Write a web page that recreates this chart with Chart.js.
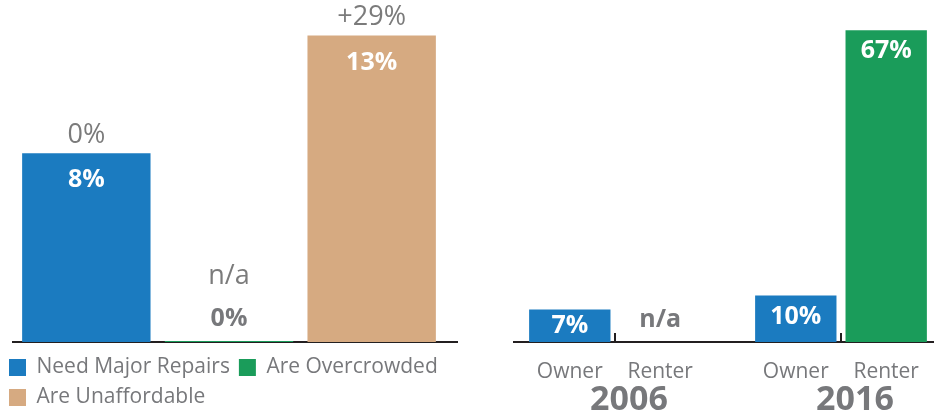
<!DOCTYPE html>
<html>
<head>
<meta charset="utf-8">
<script src="https://cdn.jsdelivr.net/npm/chart.js@4.4.1/dist/chart.umd.min.js"></script>
<style>
  html, body { margin: 0; padding: 0; background: #fff; overflow: hidden; }
  #wrap { position: relative; width: 934px; height: 414px; overflow: hidden; }
  #problemsChart { position: absolute; left: 0; top: 0; }
  #tenureChart { position: absolute; left: 480px; top: 0; }
</style>
</head>
<body>
<div id="wrap">
  <canvas id="problemsChart" width="470" height="418"></canvas>
  <canvas id="tenureChart" width="480" height="414"></canvas>
</div>
<script>
// Housing problems, share of households and change since 2006
const problemLabels = ['Need Major Repairs', 'Are Overcrowded', 'Are Unaffordable'];
const problemShares = [8, 0, 13];
const problemChanges = ['0%', 'n/a', '+29%'];
const problemColors = ['#1b7bc0', '#1a9c5a', '#d6aa81'];

// Unaffordable housing by tenure
const tenureYears = ['2006', '2016'];
const tenureTypes = ['Owner', 'Renter'];
const ownerShares = [7, 10];
const renterShares = [null, 67];
const tenureColors = ['#1b7bc0', '#1a9c5a'];

const FONT = "'Open Sans', sans-serif";
const GREY = '#77787b';
const LINE = '#231f20';

// axis line under the bars, a bit wider than the plot area
function drawBaseline(chart, extraLeft, extraRight) {
  const { ctx, chartArea } = chart;
  const y = chart.scales.y.getPixelForValue(0);
  ctx.save();
  ctx.fillStyle = LINE;
  ctx.fillRect(chartArea.left - extraLeft, y - 1, chartArea.width + extraLeft + extraRight, 2);
  ctx.restore();
}

const problemLabelPlugin = {
  id: 'problemLabels',
  beforeDatasetsDraw(chart) {
    drawBaseline(chart, 3, 15);
  },
  afterDatasetsDraw(chart) {
    const { ctx } = chart;
    const zeroY = chart.scales.y.getPixelForValue(0);
    const bars = chart.getDatasetMeta(0).data;
    ctx.save();
    ctx.textAlign = 'center';
    ctx.textBaseline = 'middle';
    bars.forEach((bar, i) => {
      const v = problemShares[i];
      let top;
      ctx.font = `700 25px ${FONT}`;
      if (v > 0) {
        ctx.fillStyle = '#fff';
        ctx.fillText(v + '%', bar.x, bar.y + 27);
        top = bar.y;
      } else {
        ctx.fillStyle = GREY;
        ctx.fillText(v + '%', bar.x, zeroY - 23);
        top = zeroY - 48;
      }
      ctx.fillStyle = '#7b7b7b';
      ctx.font = `400 27px ${FONT}`;
      ctx.fillText(problemChanges[i], bar.x, top - 18);
    });
    ctx.restore();
  }
};

new Chart(document.getElementById('problemsChart'), {
  type: 'bar',
  data: {
    labels: problemLabels,
    datasets: [{
      data: problemShares,
      backgroundColor: problemColors,
      categoryPercentage: 1,
      barPercentage: 0.9,
      minBarLength: 1
    }]
  },
  options: {
    responsive: false,
    animation: false,
    layout: { padding: 0 },
    scales: {
      x: {
        grid: { display: false, drawTicks: false },
        border: { display: false },
        ticks: { display: false },
        afterFit: s => { s.height = 6; }
      },
      y: {
        min: 0,
        max: 14.5,
        grid: { display: false, drawTicks: false },
        border: { display: false },
        ticks: { display: false },
        afterFit: s => { s.width = 15; }
      },
      yRight: {
        position: 'right',
        display: true,
        grid: { display: false, drawTicks: false },
        border: { display: false },
        ticks: { display: false },
        afterFit: s => { s.width = 27; }
      }
    },
    plugins: {
      tooltip: { enabled: false },
      legend: {
        position: 'bottom',
        align: 'start',
        labels: {
          boxWidth: 17,
          boxHeight: 17,
          padding: 9,
          color: GREY,
          font: { family: FONT, size: 21 },
          generateLabels: () => problemLabels.map((text, i) => ({
            text,
            fillStyle: problemColors[i],
            strokeStyle: problemColors[i],
            lineWidth: 0,
            fontColor: GREY,
            hidden: false,
            index: i
          }))
        }
      }
    }
  },
  plugins: [problemLabelPlugin]
});

const tenureLabelPlugin = {
  id: 'tenureLabels',
  beforeDatasetsDraw(chart) {
    const { ctx, chartArea } = chart;
    const y = chart.scales.y.getPixelForValue(0);
    ctx.save();
    ctx.fillStyle = LINE;
    ctx.fillRect(chartArea.left + 11, y - 1, chartArea.width, 2);
    // short tick at each year centre
    tenureYears.forEach((_, i) => {
      const x = chart.scales.x.getPixelForValue(i);
      ctx.fillRect(Math.round(x) - 1, y - 9, 2, 9);
    });
    ctx.restore();
  },
  afterDatasetsDraw(chart) {
    const { ctx } = chart;
    const zeroY = chart.scales.y.getPixelForValue(0);
    const series = [ownerShares, renterShares];
    ctx.save();
    ctx.textAlign = 'center';
    ctx.textBaseline = 'middle';
    series.forEach((values, d) => {
      const bars = chart.getDatasetMeta(d).data;
      bars.forEach((bar, i) => {
        const v = values[i];
        ctx.font = `700 25px ${FONT}`;
        if (v == null) {
          ctx.fillStyle = GREY;
          ctx.fillText('n/a', bar.x, zeroY - 22);
        } else {
          const h = zeroY - bar.y;
          ctx.fillStyle = '#fff';
          ctx.fillText(v + '%', bar.x, bar.y + Math.min(h / 2, 21));
        }
        ctx.fillStyle = GREY;
        ctx.font = `400 21px ${FONT}`;
        ctx.fillText(tenureTypes[d], bar.x, zeroY + 30);
      });
    });
    ctx.restore();
  }
};

new Chart(document.getElementById('tenureChart'), {
  type: 'bar',
  data: {
    labels: tenureYears,
    datasets: [
      { label: tenureTypes[0], data: ownerShares, backgroundColor: tenureColors[0] },
      { label: tenureTypes[1], data: renterShares, backgroundColor: tenureColors[1] }
    ]
  },
  options: {
    responsive: false,
    animation: false,
    layout: { padding: { left: 22, right: 6, top: 0, bottom: 0 } },
    scales: {
      x: {
        grid: { display: false, drawTicks: false },
        border: { display: false },
        ticks: {
          color: GREY,
          font: { family: FONT, size: 34, weight: '700' },
          padding: 38,
          labelOffset: 14,
          maxRotation: 0,
          autoSkip: false
        },
        afterFit: s => { s.height = 72; }
      },
      y: { display: false, min: 0, max: 73.5 }
    },
    plugins: {
      legend: { display: false },
      tooltip: { enabled: false }
    }
  },
  plugins: [tenureLabelPlugin]
});
</script>
</body>
</html>
